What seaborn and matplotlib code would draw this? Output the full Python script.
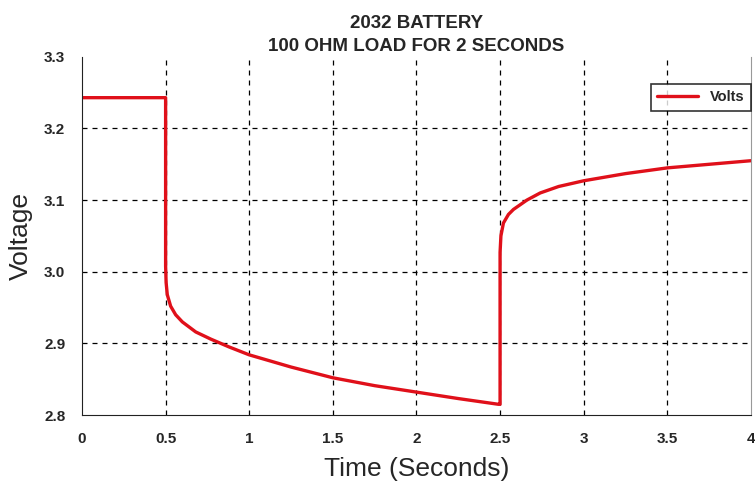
import numpy as np
import pandas as pd
import matplotlib
matplotlib.use("Agg")
import matplotlib.pyplot as plt
import seaborn as sns

# ---- data ----
time_s = [0.0, 0.25, 0.5, 0.5, 0.503, 0.51, 0.53, 0.56, 0.6, 0.68, 0.77, 0.88,
          1.0, 1.25, 1.5, 1.75, 2.0, 2.25, 2.49, 2.5, 2.5, 2.505, 2.52, 2.55,
          2.58, 2.66, 2.74, 2.85, 3.0, 3.25, 3.5, 3.75, 4.0]
volts = [3.243, 3.243, 3.243, 3.008, 2.985, 2.968, 2.952, 2.940, 2.930, 2.916,
         2.906, 2.895, 2.884, 2.867, 2.852, 2.841, 2.832, 2.823, 2.815, 2.815,
         3.027, 3.050, 3.068, 3.080, 3.087, 3.100, 3.110, 3.119, 3.127,
         3.137, 3.145, 3.150, 3.155]

title_txt = "2032 BATTERY\n100 OHM LOAD FOR 2 SECONDS"
x_ticks = [0, 0.5, 1, 1.5, 2, 2.5, 3, 3.5, 4]
x_tick_labels = ["0", "0.5", "1", "1.5", "2", "2.5", "3", "3.5", "4"]
y_ticks = [2.8, 2.9, 3.0, 3.1, 3.2, 3.3]
y_tick_labels = ["2.8", "2.9", "3.0", "3.1", "3.2", "3.3"]

df = pd.DataFrame({"Time": time_s, "Volts": volts})

sns.set_style("white")
plt.rcParams["font.family"] = ["Liberation Sans", "DejaVu Sans"]

fig = plt.figure(figsize=(7.55, 4.9), dpi=100)
ax = fig.add_axes([0.1086, 0.153, 0.886, 0.731])

sns.lineplot(data=df, x="Time", y="Volts", sort=False, estimator=None,
             color="#e0101a", linewidth=2.4, label="Volts", ax=ax)

ax.set_xlim(0, 4)
ax.set_ylim(2.8, 3.3)
ax.set_xticks(x_ticks)
ax.set_xticklabels(x_tick_labels)
ax.set_yticks(y_ticks)
ax.set_yticklabels(y_tick_labels)

# dashed grid, skip the edges
for xv in x_ticks[1:-1]:
    ax.axvline(xv, color="black", linestyle=(0, (4, 4)), linewidth=0.9, zorder=0)
for yv in y_ticks[1:-1]:
    ax.axhline(yv, color="black", linestyle=(0, (4, 4)), linewidth=0.9, zorder=0)

ax.spines["top"].set_visible(False)
ax.spines["right"].set_color("#999999")
ax.spines["left"].set_color("#222222")
ax.spines["bottom"].set_color("#222222")
ax.tick_params(axis="both", direction="out", length=5, width=1, color="#222222",
               labelsize=11, pad=7)
for lbl in ax.get_xticklabels() + ax.get_yticklabels():
    lbl.set_fontweight("bold")

ax.set_title(title_txt, fontsize=13.5, fontweight="bold", linespacing=1.45, pad=4)
ax.set_xlabel("Time (Seconds)", fontsize=19, labelpad=8)
ax.set_ylabel("Voltage", fontsize=19, labelpad=8)

leg = ax.legend(loc="upper right", bbox_to_anchor=(1.0, 0.925), frameon=True,
                fancybox=False, edgecolor="black", handlelength=2.8,
                borderaxespad=0, borderpad=0.45, prop={"weight": "bold", "size": 10.5})
leg.get_frame().set_linewidth(1.2)

fig.savefig("out.png", dpi=100)
